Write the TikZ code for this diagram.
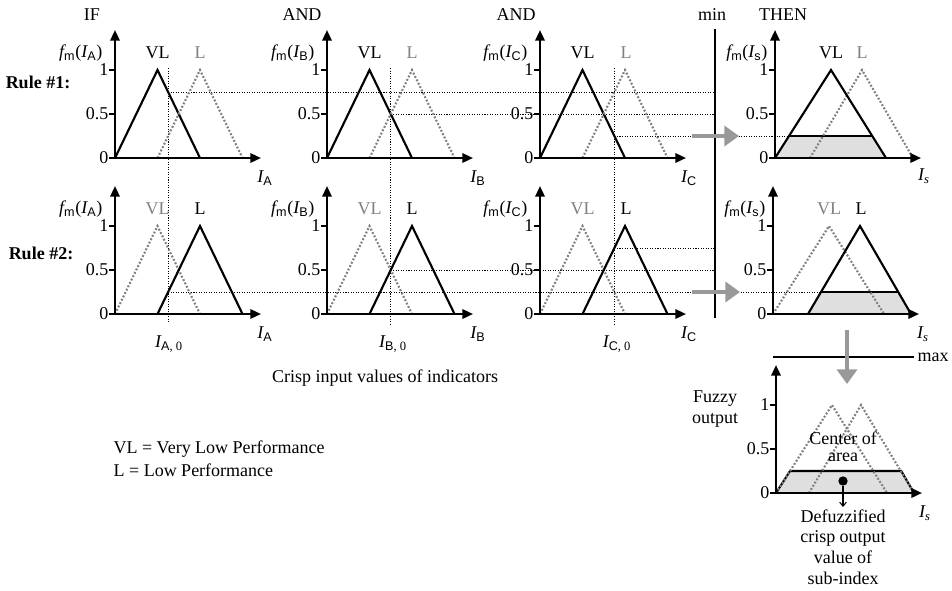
\documentclass[tikz,border=0pt]{standalone}
\usepackage{fontspec}
\setmainfont{Liberation Serif}
\newfontfamily\sfA{Liberation Sans}
\usetikzlibrary{arrows.meta}
\newcommand\fm[1]{{\itshape f}\textsubscript{\sfA m}({\itshape I}\textsubscript{\sfA #1})}
\newcommand\axesat[3]{%
  \draw[axisline] (#2-6,#3) -- (#2+146,#3);
  \draw[axisline] (#2,#3) -- (#2,#3-128);
  \draw[tickmark] (#2-6,#3-88) -- (#2,#3-88);
  \draw[tickmark] (#2-6,#3-44) -- (#2,#3-44);
  \node[ticklab] (#1one) at (#2-5,#3-88) {1};
  \node[ticklab] (#1half) at (#2-5,#3-44) {0.5};
  \node[ticklab] (#1zero) at (#2-5,#3) {0};
}
\newcommand\inplot[5]{%
  \draw[#4] (#2,#3) -- (#2+42.5,#3-88) -- (#2+85,#3);
  \draw[#5] (#2+42.5,#3) -- (#2+85,#3-88) -- (#2+127.5,#3);
}
\begin{document}
\begin{tikzpicture}[x=0.75pt,y=-0.75pt,
  font=\fontsize{13.5}{16}\selectfont,
  axisline/.style={line width=1.7pt,-{Triangle[length=8pt,width=7pt]}},
  tickmark/.style={line width=1.2pt},
  ticklab/.style={anchor=east,inner sep=1pt},
  mfs/.style={line width=1.6pt,line join=miter},
  mfd/.style={draw=gray,line width=1.6pt,dash pattern=on 1.4pt off 1.4pt},
  guide/.style={line width=0.75pt,dash pattern=on 0.8pt off 1.1pt},
  garrow/.style={draw=gray!80,line width=3pt,-{Triangle[length=11pt,width=15pt]}},
  lab/.style={inner sep=1pt},
  glab/.style={inner sep=1pt,text=gray},
  shade/.style={fill=gray!25}]
\useasboundingbox (0,0) rectangle (952,590);

% ---------- guide lines (behind)
\draw[guide] (168.1,68) -- (168.1,323);
\draw[guide] (390.75,68) -- (390.75,324);
\draw[guide] (614.4,68) -- (614.4,324);
% rule 1
\draw[guide] (168.1,92) -- (715,92);
\draw[guide] (390.75,114) -- (715,114);
\draw[guide] (614.4,136) -- (789,136);
% rule 2
\draw[guide] (168.1,292) -- (821,292);
\draw[guide] (390.75,270) -- (715,270);
\draw[guide] (614.4,248) -- (715,248);

% ---------- top labels
\node[lab] (tif) at (92,15) {IF};
\node[lab] (tand1) at (302,15) {AND};
\node[lab] (tand2) at (516,15) {AND};
\node[lab] (tmin) at (712,15) {min};
\node[lab] (tthen) at (783,15) {THEN};
\node[lab,font=\fontsize{13.5}{16}\selectfont\bfseries] (r1) at (38,82) {Rule \#1:};
\node[lab,font=\fontsize{13.5}{16}\selectfont\bfseries] (r2) at (41,253) {Rule \#2:};

% ---------- min line
\draw[line width=1.6pt] (715,29) -- (715,318);

% ---------- rule 1 input plots
\inplot{a1}{115}{158}{mfs}{mfd}
\axesat{a1}{115}{158}
\node[lab,anchor=east] (a1f) at (104,53) {\fm{A}};
\node[lab] (a1vl) at (157.5,53) {VL};
\node[glab] (a1l) at (200,53) {L};
\node[lab] (a1x) at (265,178) {{\itshape I}\textsubscript{\sfA A}};

\inplot{b1}{327}{158}{mfs}{mfd}
\axesat{b1}{327}{158}
\node[lab,anchor=east] (b1f) at (316,53) {\fm{B}};
\node[lab] (b1vl) at (369.5,53) {VL};
\node[glab] (b1l) at (412,53) {L};
\node[lab] (b1x) at (478,178) {{\itshape I}\textsubscript{\sfA B}};

\inplot{c1}{540}{158}{mfs}{mfd}
\axesat{c1}{540}{158}
\node[lab,anchor=east] (c1f) at (529,53) {\fm{C}};
\node[lab] (c1vl) at (582.5,53) {VL};
\node[glab] (c1l) at (626,53) {L};
\node[lab] (c1x) at (689,178) {{\itshape I}\textsubscript{\sfA C}};

% ---------- rule 2 input plots
\inplot{a2}{115}{314}{mfd}{mfs}
\axesat{a2}{115}{314}
\node[lab,anchor=east] (a2f) at (104,209) {\fm{A}};
\node[glab] (a2vl) at (157.5,209) {VL};
\node[lab] (a2l) at (200,209) {L};
\node[lab] (a2x) at (265,334) {{\itshape I}\textsubscript{\sfA A}};

\inplot{b2}{327}{314}{mfd}{mfs}
\axesat{b2}{327}{314}
\node[lab,anchor=east] (b2f) at (316,209) {\fm{B}};
\node[glab] (b2vl) at (369.5,209) {VL};
\node[lab] (b2l) at (412,209) {L};
\node[lab] (b2x) at (478,334) {{\itshape I}\textsubscript{\sfA B}};

\inplot{c2}{540}{314}{mfd}{mfs}
\axesat{c2}{540}{314}
\node[lab,anchor=east] (c2f) at (529,209) {\fm{C}};
\node[glab] (c2vl) at (582.5,209) {VL};
\node[lab] (c2l) at (626,209) {L};
\node[lab] (c2x) at (689,334) {{\itshape I}\textsubscript{\sfA C}};

% input values
\node[lab] (ia0) at (169,344) {{\itshape I}\textsubscript{\sfA A\rmfamily, 0}};
\node[lab] (ib0) at (393,344) {{\itshape I}\textsubscript{\sfA B\rmfamily, 0}};
\node[lab] (ic0) at (617,344) {{\itshape I}\textsubscript{\sfA C\rmfamily, 0}};
\node[lab] (crisp) at (385,378) {Crisp input values of indicators};

% ---------- THEN rule 1
\fill[shade] (775,158) -- (789,136) -- (872.25,136) -- (886,158) -- cycle;
\draw[mfs] (789,136) -- (872.25,136);
\draw[mfd] (810,158) -- (862,70) -- (913,158);
\draw[mfs] (775,158) -- (831,70) -- (886,158);
\axesat{t1}{775}{158}
\node[lab,anchor=east] (t1f) at (769,53) {{\itshape f}\textsubscript{\sfA m}({\itshape I}\textsubscript{\sfA s})};
\node[lab] (t1vl) at (831,53) {VL};
\node[glab] (t1l) at (862,53) {L};
\node[lab] (t1x) at (924,176) {{\itshape I\textsubscript{s}}};

% ---------- THEN rule 2
\fill[shade] (808,314) -- (821,292) -- (898.25,292) -- (911,314) -- cycle;
\draw[mfs] (821,292) -- (898.25,292);
\draw[mfd] (773,314) -- (829,226) -- (884,314);
\draw[mfs] (808,314) -- (860,226) -- (911,314);
\axesat{t2}{773}{314}
\node[lab,anchor=east] (t2f) at (767,209) {{\itshape f}\textsubscript{\sfA m}({\itshape I}\textsubscript{\sfA s})};
\node[glab] (t2vl) at (829,209) {VL};
\node[lab] (t2l) at (861,209) {L};
\node[lab] (t2x) at (923,334) {{\itshape I\textsubscript{s}}};

% ---------- gray arrows
\coordinate (g1s) at (692,136);
\coordinate (g1e) at (739,136);
\draw[garrow] (g1s) -- (g1e);
\coordinate (g2s) at (692,292);
\coordinate (g2e) at (740,292);
\draw[garrow] (g2s) -- (g2e);

% ---------- max
\draw[line width=1.6pt] (773,357) -- (914,357);
\node[lab,anchor=west] (tmax) at (916,357) {max};
\coordinate (g3s) at (847,330);
\coordinate (g3e) at (847,384);
\draw[garrow] (g3s) -- (g3e);

% ---------- final plot
\fill[shade] (776,493) -- (790,471) -- (901.25,471) -- (914,493) -- cycle;
\draw[mfs] (776,493) -- (790,471) -- (901.25,471) -- (914,493);
\draw[mfd] (776,493) -- (832,405) -- (887,493);
\draw[mfd] (809,493) -- (861,405) -- (914,493);
\axesat{f}{776}{493}
\node[lab,align=center] (fuzzy) at (715,409) {Fuzzy\\output};
\node[lab] (fx) at (925,513) {{\itshape I\textsubscript{s}}};
\node[lab] (coa1) at (843,438) {Center of};
\node[lab] (coa2) at (843,457) {area};
\node[circle,fill=black,inner sep=0pt,minimum size=7pt] (dot) at (843,481) {};
\coordinate (dotend) at (843,507);
\draw[line width=0.8pt,-{Straight Barb[length=3pt,width=5pt]}] (dot) -- (dotend);
\node[lab,align=center,font=\fontsize{13.5}{15.4}\selectfont] (defuzz) at (843,547) {Defuzzified\\crisp output\\value of\\sub-index};

% ---------- legend
\node[lab,anchor=west] (leg1) at (112,449) {VL = Very Low Performance};
\node[lab,anchor=west] (leg2) at (112,470) {L = Low Performance};
\end{tikzpicture}
\end{document}
